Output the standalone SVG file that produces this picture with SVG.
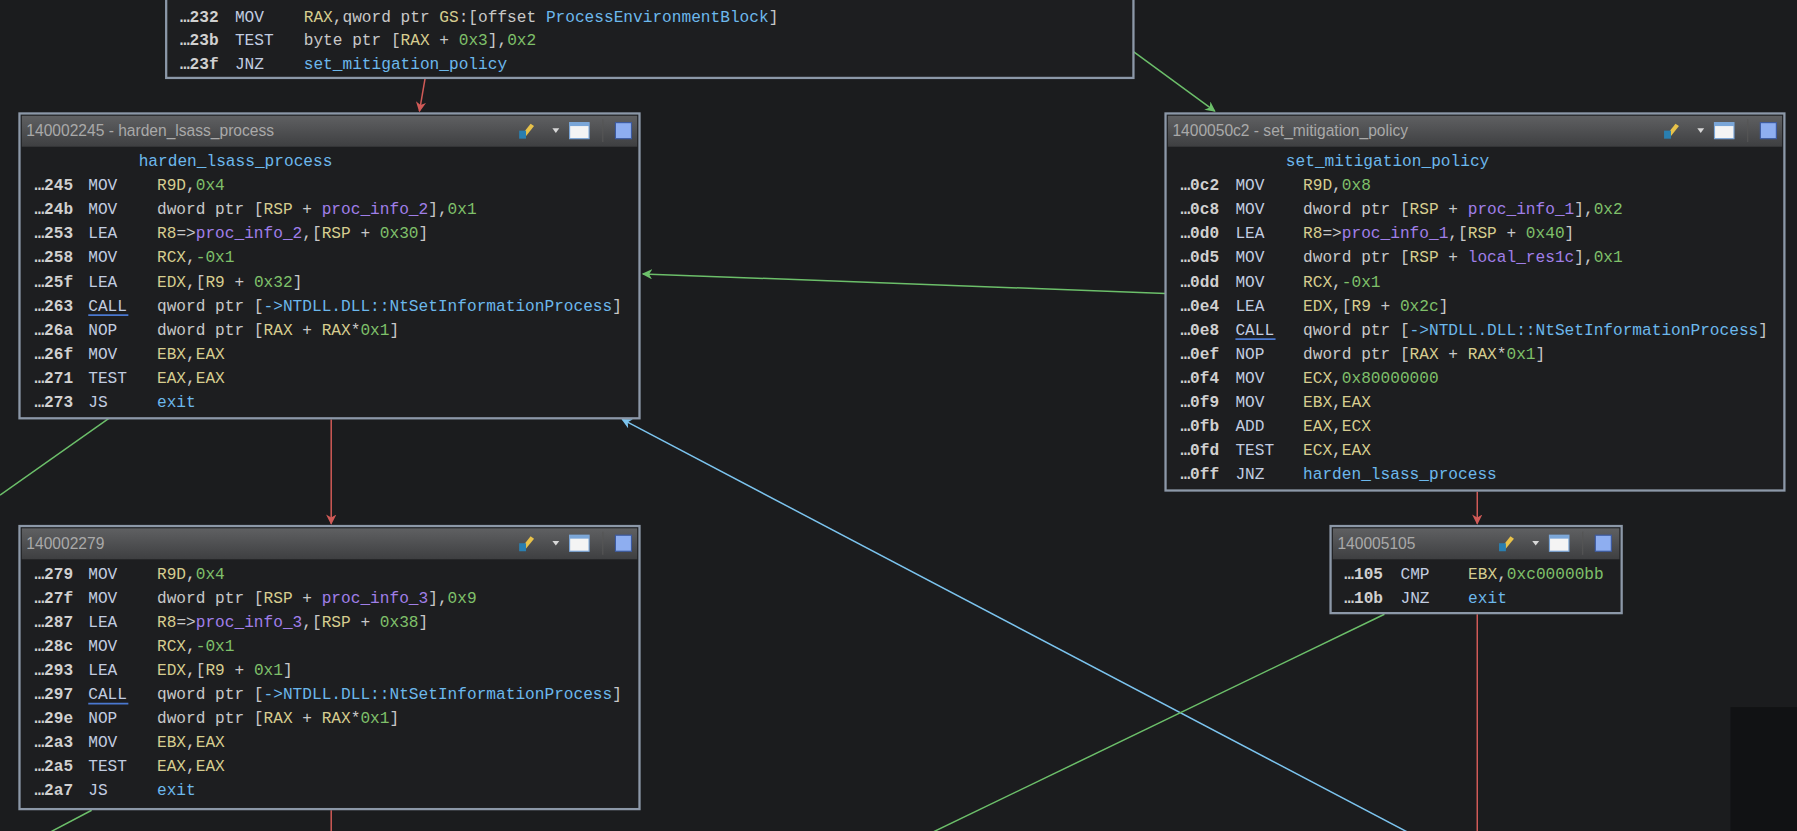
<svg xmlns="http://www.w3.org/2000/svg" width="1797" height="831" viewBox="0 0 1797 831">
<defs>
<style>
text{font-family:"Liberation Mono","DejaVu Sans Mono",monospace;font-size:14.1px;fill:#c8c8c8}
.t{font-family:"Liberation Sans","Noto Sans",sans-serif;font-size:13.6px;fill:#a9a9a9}
.a{fill:#d0d0d0;font-weight:bold}.m{fill:#c2cde0}.r{fill:#d6cd8f}.n{fill:#7fc06a}.v{fill:#a07fe8}.f{fill:#6cb8ec}
.box{fill:#1d1e20;stroke:#8c98a8;stroke-width:2}
.hd{fill:url(#hg)}
.g{stroke:#6cbf6a}.rd{stroke:#d05a57}.bl{stroke:#7cc4ef}
.c line,.c path{fill:none;stroke-width:1.3}
</style>
<linearGradient id="hg" x1="0" y1="0" x2="0" y2="1"><stop offset="0" stop-color="#5f6062"/><stop offset="1" stop-color="#3e3f41"/></linearGradient>
<marker id="ag" viewBox="0 0 10 10" refX="9" refY="5" markerWidth="9" markerHeight="9" orient="auto" markerUnits="userSpaceOnUse"><path d="M0,0 L10,5 L0,10 L3,5z" fill="#6cbf6a"/></marker>
<marker id="ar" viewBox="0 0 10 10" refX="9" refY="5" markerWidth="9" markerHeight="9" orient="auto" markerUnits="userSpaceOnUse"><path d="M0,0 L10,5 L0,10 L3,5z" fill="#d05a57"/></marker>
<marker id="ab" viewBox="0 0 10 10" refX="9" refY="5" markerWidth="9" markerHeight="9" orient="auto" markerUnits="userSpaceOnUse"><path d="M0,0 L10,5 L0,10 L3,5z" fill="#7cc4ef"/></marker>
<g id="icons">
<path d="M0,12 L8,2 L11,4 L3,14z" fill="#e8c24a"/><rect x="-2" y="8" width="6" height="7" fill="#2a7fb0"/>
<path d="M27,6 L33,6 L30,10z" fill="#d8d8d8"/>
<rect x="42" y="1" width="17" height="14" fill="#f4f4f4" stroke="#7aa6d8"/><rect x="42" y="1" width="17" height="3" fill="#7aa6d8"/>
<line x1="71" y1="-2" x2="71" y2="18" stroke="#555"/>
<rect x="82" y="1" width="14" height="14" fill="#8eaef0" stroke="#3c5aa0"/>
</g>
</defs>
<rect width="1797" height="831" fill="#1b1c1e"/>
<g transform="scale(1.14605)">
<rect x="1510" y="617" width="60" height="110" fill="#111214"/>
<g class="c" id="connectors">
<line class="rd" x1="371" y1="68" x2="366" y2="97" marker-end="url(#ar)"/>
<line class="g" x1="989" y1="45" x2="1060" y2="97" marker-end="url(#ag)"/>
<line class="g" x1="1017" y1="256" x2="561" y2="239" marker-end="url(#ag)"/>
<line class="g" x1="95" y1="365" x2="0" y2="432"/>
<line class="rd" x1="289" y1="366" x2="289" y2="457" marker-end="url(#ar)"/>
<line class="rd" x1="1289" y1="429" x2="1289" y2="457" marker-end="url(#ar)"/>
<line class="bl" x1="1230" y1="727" x2="543" y2="366" marker-end="url(#ab)"/>
<line class="g" x1="1208" y1="536" x2="812" y2="727"/>
<line class="rd" x1="1289" y1="536" x2="1289" y2="727"/>
<line class="g" x1="80" y1="707" x2="42" y2="727"/>
<line class="rd" x1="289" y1="707" x2="289" y2="727"/>
</g>
<g id="n0">
<rect class="box" x="145" y="-5" width="844" height="73"/>
<text y="19"><tspan x="157" class="a">…232</tspan><tspan x="205" class="m">MOV</tspan><tspan x="265" class="r">RAX</tspan>,qword ptr <tspan class="r">GS</tspan>:[offset <tspan class="f">ProcessEnvironmentBlock</tspan>]</text>
<text y="39"><tspan x="157" class="a">…23b</tspan><tspan x="205" class="m">TEST</tspan><tspan x="265">byte ptr [</tspan><tspan class="r">RAX</tspan> + <tspan class="n">0x3</tspan>],<tspan class="n">0x2</tspan></text>
<text y="60"><tspan x="157" class="a">…23f</tspan><tspan x="205" class="m">JNZ</tspan><tspan x="265" class="f">set_mitigation_policy</tspan></text>
</g>
<g id="n1">
<rect class="box" x="17" y="99" width="541" height="266"/>
<rect class="hd" x="19" y="101" width="537" height="27"/>
<text class="t" x="23" y="119">140002245 - harden_lsass_process</text>
<use href="#icons" x="455" y="106"/>
<text x="121" y="145" class="f">harden_lsass_process</text>
<text y="166"><tspan x="30" class="a">…245</tspan><tspan x="77" class="m">MOV</tspan><tspan x="137" class="r">R9D</tspan>,<tspan class="n">0x4</tspan></text>
<text y="187"><tspan x="30" class="a">…24b</tspan><tspan x="77" class="m">MOV</tspan><tspan x="137">dword ptr [</tspan><tspan class="r">RSP</tspan> + <tspan class="v">proc_info_2</tspan>],<tspan class="n">0x1</tspan></text>
<text y="208"><tspan x="30" class="a">…253</tspan><tspan x="77" class="m">LEA</tspan><tspan x="137" class="r">R8</tspan>=&gt;<tspan class="v">proc_info_2</tspan>,[<tspan class="r">RSP</tspan> + <tspan class="n">0x30</tspan>]</text>
<text y="229"><tspan x="30" class="a">…258</tspan><tspan x="77" class="m">MOV</tspan><tspan x="137" class="r">RCX</tspan>,<tspan class="n">-0x1</tspan></text>
<text y="250"><tspan x="30" class="a">…25f</tspan><tspan x="77" class="m">LEA</tspan><tspan x="137" class="r">EDX</tspan>,[<tspan class="r">R9</tspan> + <tspan class="n">0x32</tspan>]</text>
<text y="271"><tspan x="30" class="a">…263</tspan><tspan x="77" class="m">CALL</tspan><tspan x="137">qword ptr [</tspan><tspan class="f">-&gt;NTDLL.DLL::NtSetInformationProcess</tspan>]</text>
<line x1="77" y1="275" x2="112" y2="275" stroke="#4a78d0" stroke-width="1.5"/>
<text y="292"><tspan x="30" class="a">…26a</tspan><tspan x="77" class="m">NOP</tspan><tspan x="137">dword ptr [</tspan><tspan class="r">RAX</tspan> + <tspan class="r">RAX</tspan>*<tspan class="n">0x1</tspan>]</text>
<text y="313"><tspan x="30" class="a">…26f</tspan><tspan x="77" class="m">MOV</tspan><tspan x="137" class="r">EBX</tspan>,<tspan class="r">EAX</tspan></text>
<text y="334"><tspan x="30" class="a">…271</tspan><tspan x="77" class="m">TEST</tspan><tspan x="137" class="r">EAX</tspan>,<tspan class="r">EAX</tspan></text>
<text y="355"><tspan x="30" class="a">…273</tspan><tspan x="77" class="m">JS</tspan><tspan x="137" class="f">exit</tspan></text>
</g>
<g id="n2">
<rect class="box" x="1017" y="99" width="540" height="329"/>
<rect class="hd" x="1019" y="101" width="536" height="27"/>
<text class="t" x="1023" y="119">1400050c2 - set_mitigation_policy</text>
<use href="#icons" x="1454" y="106"/>
<text x="1122" y="145" class="f">set_mitigation_policy</text>
<text y="166"><tspan x="1030" class="a">…0c2</tspan><tspan x="1078" class="m">MOV</tspan><tspan x="1137" class="r">R9D</tspan>,<tspan class="n">0x8</tspan></text>
<text y="187"><tspan x="1030" class="a">…0c8</tspan><tspan x="1078" class="m">MOV</tspan><tspan x="1137">dword ptr [</tspan><tspan class="r">RSP</tspan> + <tspan class="v">proc_info_1</tspan>],<tspan class="n">0x2</tspan></text>
<text y="208"><tspan x="1030" class="a">…0d0</tspan><tspan x="1078" class="m">LEA</tspan><tspan x="1137" class="r">R8</tspan>=&gt;<tspan class="v">proc_info_1</tspan>,[<tspan class="r">RSP</tspan> + <tspan class="n">0x40</tspan>]</text>
<text y="229"><tspan x="1030" class="a">…0d5</tspan><tspan x="1078" class="m">MOV</tspan><tspan x="1137">dword ptr [</tspan><tspan class="r">RSP</tspan> + <tspan class="v">local_res1c</tspan>],<tspan class="n">0x1</tspan></text>
<text y="250"><tspan x="1030" class="a">…0dd</tspan><tspan x="1078" class="m">MOV</tspan><tspan x="1137" class="r">RCX</tspan>,<tspan class="n">-0x1</tspan></text>
<text y="271"><tspan x="1030" class="a">…0e4</tspan><tspan x="1078" class="m">LEA</tspan><tspan x="1137" class="r">EDX</tspan>,[<tspan class="r">R9</tspan> + <tspan class="n">0x2c</tspan>]</text>
<text y="292"><tspan x="1030" class="a">…0e8</tspan><tspan x="1078" class="m">CALL</tspan><tspan x="1137">qword ptr [</tspan><tspan class="f">-&gt;NTDLL.DLL::NtSetInformationProcess</tspan>]</text>
<line x1="1078" y1="296" x2="1113" y2="296" stroke="#4a78d0" stroke-width="1.5"/>
<text y="313"><tspan x="1030" class="a">…0ef</tspan><tspan x="1078" class="m">NOP</tspan><tspan x="1137">dword ptr [</tspan><tspan class="r">RAX</tspan> + <tspan class="r">RAX</tspan>*<tspan class="n">0x1</tspan>]</text>
<text y="334"><tspan x="1030" class="a">…0f4</tspan><tspan x="1078" class="m">MOV</tspan><tspan x="1137" class="r">ECX</tspan>,<tspan class="n">0x80000000</tspan></text>
<text y="355"><tspan x="1030" class="a">…0f9</tspan><tspan x="1078" class="m">MOV</tspan><tspan x="1137" class="r">EBX</tspan>,<tspan class="r">EAX</tspan></text>
<text y="376"><tspan x="1030" class="a">…0fb</tspan><tspan x="1078" class="m">ADD</tspan><tspan x="1137" class="r">EAX</tspan>,<tspan class="r">ECX</tspan></text>
<text y="397"><tspan x="1030" class="a">…0fd</tspan><tspan x="1078" class="m">TEST</tspan><tspan x="1137" class="r">ECX</tspan>,<tspan class="r">EAX</tspan></text>
<text y="418"><tspan x="1030" class="a">…0ff</tspan><tspan x="1078" class="m">JNZ</tspan><tspan x="1137" class="f">harden_lsass_process</tspan></text>
</g>
<g id="n3">
<rect class="box" x="17" y="459" width="541" height="247"/>
<rect class="hd" x="19" y="461" width="537" height="27"/>
<text class="t" x="23" y="479">140002279</text>
<use href="#icons" x="455" y="466"/>
<text y="505"><tspan x="30" class="a">…279</tspan><tspan x="77" class="m">MOV</tspan><tspan x="137" class="r">R9D</tspan>,<tspan class="n">0x4</tspan></text>
<text y="526"><tspan x="30" class="a">…27f</tspan><tspan x="77" class="m">MOV</tspan><tspan x="137">dword ptr [</tspan><tspan class="r">RSP</tspan> + <tspan class="v">proc_info_3</tspan>],<tspan class="n">0x9</tspan></text>
<text y="547"><tspan x="30" class="a">…287</tspan><tspan x="77" class="m">LEA</tspan><tspan x="137" class="r">R8</tspan>=&gt;<tspan class="v">proc_info_3</tspan>,[<tspan class="r">RSP</tspan> + <tspan class="n">0x38</tspan>]</text>
<text y="568"><tspan x="30" class="a">…28c</tspan><tspan x="77" class="m">MOV</tspan><tspan x="137" class="r">RCX</tspan>,<tspan class="n">-0x1</tspan></text>
<text y="589"><tspan x="30" class="a">…293</tspan><tspan x="77" class="m">LEA</tspan><tspan x="137" class="r">EDX</tspan>,[<tspan class="r">R9</tspan> + <tspan class="n">0x1</tspan>]</text>
<text y="610"><tspan x="30" class="a">…297</tspan><tspan x="77" class="m">CALL</tspan><tspan x="137">qword ptr [</tspan><tspan class="f">-&gt;NTDLL.DLL::NtSetInformationProcess</tspan>]</text>
<line x1="77" y1="614" x2="112" y2="614" stroke="#4a78d0" stroke-width="1.5"/>
<text y="631"><tspan x="30" class="a">…29e</tspan><tspan x="77" class="m">NOP</tspan><tspan x="137">dword ptr [</tspan><tspan class="r">RAX</tspan> + <tspan class="r">RAX</tspan>*<tspan class="n">0x1</tspan>]</text>
<text y="652"><tspan x="30" class="a">…2a3</tspan><tspan x="77" class="m">MOV</tspan><tspan x="137" class="r">EBX</tspan>,<tspan class="r">EAX</tspan></text>
<text y="673"><tspan x="30" class="a">…2a5</tspan><tspan x="77" class="m">TEST</tspan><tspan x="137" class="r">EAX</tspan>,<tspan class="r">EAX</tspan></text>
<text y="694"><tspan x="30" class="a">…2a7</tspan><tspan x="77" class="m">JS</tspan><tspan x="137" class="f">exit</tspan></text>
</g>
<g id="n4">
<rect class="box" x="1161" y="459" width="254" height="76"/>
<rect class="hd" x="1163" y="461" width="250" height="27"/>
<text class="t" x="1167" y="479">140005105</text>
<use href="#icons" x="1310" y="466"/>
<text y="505"><tspan x="1173" class="a">…105</tspan><tspan x="1222" class="m">CMP</tspan><tspan x="1281" class="r">EBX</tspan>,<tspan class="n">0xc00000bb</tspan></text>
<text y="526"><tspan x="1173" class="a">…10b</tspan><tspan x="1222" class="m">JNZ</tspan><tspan x="1281" class="f">exit</tspan></text>
</g>
</g>
</svg>
